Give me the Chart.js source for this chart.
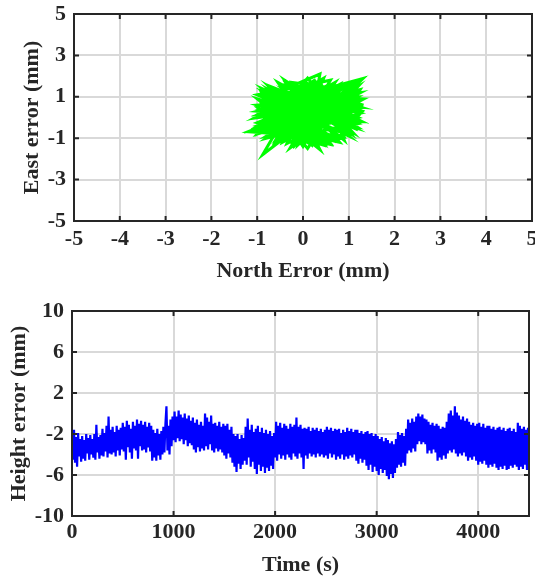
<!DOCTYPE html>
<html>
<head>
<meta charset="utf-8">
<script src="https://cdn.jsdelivr.net/npm/chart.js@4/dist/chart.umd.min.js"></script>
<style>
  html, body { margin: 0; padding: 0; background: #ffffff; }
  #wrap { position: relative; width: 535px; height: 579px; }
  canvas { position: absolute; left: 0; }
  #c1 { top: 0; }
  #c2 { top: 290px; }
</style>
</head>
<body>
<div id="wrap">
  <canvas id="c1" width="535" height="290"></canvas>
  <canvas id="c2" width="535" height="289"></canvas>
</div>
<script>
// ---- Top panel: horizontal error (North vs East), mm ----
const northError = [
  -0.2, 0.9, -0.8, 0.5, 0.2, -0.9, 1.2, -0.4, 0.0, 1.0,
  -1.0, 0.7, -0.5, 1.3, -0.7, 0.4, -1.0, 1.1, -0.2, 0.3,
  -0.9, 1.25, -0.6, 0.8, -1.2, 0.6, -0.3, 1.0, -0.8, 0.37,
  0.1, -1.0, 1.25, -0.4, 0.9, -0.6, 0.2, 1.32, -0.9, 0.5,
  -0.1, 1.15, -1.0, 0.37, -0.2, 0.9, -0.8, 1.2, -0.5, 0.0,
  1.0, -0.88, -0.3, 0.8, -1.0, 0.6, -0.28, 1.1, -0.7, 0.3,
  -0.9, 1.17, -0.4, 0.6, -1.05, 0.8, 0.0, -0.6, 1.25, -0.2,
  0.5, -1.0, 0.1, 1.05, -0.75, 0.25, 1.2, -0.5, 0.7, -0.95,
  0.4, 0.9, -0.3, 1.25, -0.8, 0.2, -0.1, 1.0, -1.0, 0.55,
  -0.4, 1.2, -0.6, 0.2, 0.95, -0.85, 0.45, -0.25, 1.1, -1.0,
  0.3, -0.5, 1.2, -0.15, 0.7, -0.9, 0.65, -0.7, 1.0, -0.35,
  0.15, 1.15, -1.0, 0.5, -0.6, 0.8, -0.2, 1.25, -0.8, 0.1,
  0.9, -0.95, 0.35, -0.45, 1.05, -0.7, 0.6, -0.15, 0.0, 1.2,
  -0.9, 0.25, 0.75, -1.05, 0.45, 0.05, -0.55, 1.1, -0.3, 0.85,
  -0.75, 0.15, -0.95, 1.2, -0.6, 0.95, -1.0, 0.6, -0.35, 1.25,
  -0.85, 0.2, 0.8, -1.0, 1.2, -0.45, 0.05, 1.1, -0.75, 0.5,
  1.25, -0.95, 0.25, 0.9, -0.65, 1.2, -0.2, -0.9, 0.7, 1.3,
  -0.5, 0.0
];
const eastError = [
  0.3, 1.1, -0.6, 1.5, -1.2, 0.8, 0.4, -1.1, 1.6, -0.7,
  0.1, 1.3, -1.0, 0.9, 1.2, -1.3, -0.4, 1.2, -1.3, 1.7,
  -0.2, -0.2, 1.4, -1.0, -0.69, 0.9, 1.5, -0.9, 1.0, 2.1,
  -1.2, 0.5, 1.85, -0.9, 0.1, -1.2, 1.4, 0.6, 1.3, -1.1,
  1.2, -0.5, 0.9, -1.55, 0.9, 1.5, -0.9, 0.0, 1.6, -1.0,
  1.4, -1.8, 0.4, -0.7, 1.1, 1.8, -1.47, 0.7, -0.3, 1.0,
  0.4, -0.44, 1.8, -1.3, -0.5, 1.6, -1.4, 0.6, 1.2, -0.5,
  0.2, -0.8, 1.9, -0.8, 1.5, -0.8, 1.5, -0.7, 0.5, 0.0,
  1.6, -1.1, 1.1, 0.2, -1.0, 0.6, -1.3, 1.0, 0.6, -0.5,
  1.3, -0.3, -1.1, 1.5, -0.4, 1.2, -1.2, 1.7, 1.3, -0.6,
  -0.3, 1.0, 0.8, -1.1, 1.7, -0.3, -0.9, 0.3, 0.3, -1.25,
  1.3, -0.1, 0.3, 1.2, -0.5, -1.2, 1.5, 0.5, 0.9, -1.5,
  1.2, -0.7, 0.8, -0.2, 1.6, 1.1, -0.1, -0.8, 1.1, -0.6,
  1.4, -1.0, 0.9, 0.0, 1.9, -0.2, 1.7, -0.3, -1.0, 1.4,
  -0.1, 0.0, 1.05, 1.0, -1.15, 1.55, -0.25, -1.25, 1.6, -0.15,
  0.6, -1.35, 1.45, -0.55, 0.75, -1.2, 1.75, -0.75, 1.35, -1.35,
  1.35, 0.2, 1.8, -0.95, -0.9, 1.65, -1.4, 1.2, -1.15, 0.3,
  1.55, 0.0
];
const northTicks = [-5, -4, -3, -2, -1, 0, 1, 2, 3, 4, 5];
const eastTicks = [-5, -3, -1, 1, 3, 5];

// ---- Bottom panel: height error vs time ----
const sampleInterval = 10; // s
const heightError = [
  -2.0, -4.5, -1.6, -4.8, -2.3, -5.2, -1.9, -4.2, -2.5, -4.7,
  -2.2, -4.4, -2.6, -4.6, -2.0, -3.9, -2.4, -4.5, -2.1, -4.0,
  -2.5, -4.3, -2.0, -4.5, -1.1, -3.8, -2.3, -4.4, -2.1, -4.1,
  -1.5, -4.2, -1.9, -3.7, -1.2, -4.3, -0.3, -3.9, -1.6, -4.0,
  -1.3, -3.8, -1.8, -4.2, -1.2, -3.6, -1.6, -4.1, -1.4, -3.5,
  -0.9, -3.7, -1.3, -4.5, -0.7, -3.3, -1.1, -3.8, -1.5, -4.4,
  -0.8, -3.4, -1.2, -3.6, -0.6, -4.4, -1.0, -3.2, -0.7, -3.6,
  -1.1, -3.5, -0.8, -3.8, -1.3, -3.3, -0.9, -3.7, -1.2, -4.6,
  -1.6, -4.3, -1.9, -4.6, -1.5, -4.1, -2.0, -4.5, -1.7, -4.0,
  -1.3, -3.8, -1.0, 0.7, -3.6, -1.2, -4.0, -0.6, -3.2, -0.3,
  -2.6, 0.2, -2.8, -0.3, -2.4, 0.3, -2.7, -0.1, -2.5, -0.4,
  -3.0, 0.0, -2.6, -0.5, -3.2, -0.2, -2.9, -0.7, -3.1, -0.4,
  -3.5, -0.9, -3.8, -0.6, -3.3, -1.1, -3.7, -0.8, -3.4, -1.2,
  -3.6, 0.0, -3.2, -0.4, -3.5, -0.8, -3.0, -0.2, -3.6, -1.0,
  -3.8, -0.9, -3.4, -1.2, -3.7, -0.8, -3.5, -1.3, -3.8, -1.0,
  -4.1, -1.2, -4.4, -1.0, -3.9, -1.6, -4.3, -1.3, -4.8, -2.0,
  -5.2, -2.2, -5.7, -2.0, -4.9, -2.5, -5.4, -2.1, -5.0, -2.4,
  -4.6, -1.3, -5.0, -0.5, -4.3, -1.6, -5.2, -1.1, -4.7, -1.8,
  -5.4, -1.5, -5.9, -1.2, -5.0, -1.8, -5.6, -1.4, -5.2, -1.9,
  -5.8, -1.6, -5.3, -2.0, -5.6, -1.7, -5.1, -2.2, -5.4, -1.9,
  -4.3, -0.8, -4.6, -1.2, -4.0, -0.9, -4.4, -1.4, -4.1, -1.0,
  -4.5, -1.2, -4.0, -1.5, -4.3, -1.0, -4.5, -1.3, -3.9, -1.1,
  -4.2, -0.4, -4.4, -1.3, -3.9, -1.1, -4.3, -1.5, -5.4, -1.4,
  -4.1, -1.5, -4.4, -1.3, -3.9, -1.7, -4.2, -1.4, -4.0, -1.6,
  -4.3, -1.4, -3.9, -1.7, -4.2, -1.5, -4.0, -1.8, -4.3, -1.6,
  -4.1, -1.3, -4.4, -1.6, -3.9, -1.4, -4.3, -1.7, -4.0, -1.5,
  -4.5, -1.6, -4.2, -1.5, -4.4, -1.9, -4.0, -1.6, -4.5, -1.8,
  -4.2, -1.4, -4.4, -1.7, -4.1, -1.5, -4.3, -1.8, -4.0, -1.6,
  -4.6, -1.6, -4.9, -1.9, -4.4, -1.7, -4.8, -2.0, -4.5, -1.8,
  -5.1, -1.7, -5.5, -2.0, -5.0, -1.9, -5.7, -2.2, -5.2, -2.0,
  -5.6, -2.2, -6.0, -2.5, -5.4, -2.3, -5.8, -2.7, -5.5, -2.4,
  -6.1, -2.6, -6.4, -2.9, -5.9, -2.7, -6.3, -3.0, -5.8, -2.5,
  -5.3, -1.8, -5.0, -2.1, -5.2, -1.9, -4.8, -2.2, -5.1, -1.5,
  -3.9, -0.6, -3.6, -0.9, -3.8, -0.5, -3.4, -0.8, -3.7, -0.3,
  -3.0, 0.0, -2.7, -0.3, -3.0, -0.1, -2.8, -0.5, -3.0, -0.6,
  -3.9, -0.8, -3.6, -1.1, -3.9, -0.9, -3.5, -1.2, -3.8, -1.0,
  -4.6, -1.2, -4.3, -1.5, -4.5, -1.3, -4.1, -1.4, -4.4, -0.8,
  -3.9, 0.0, -3.6, 0.3, -3.8, -0.2, -3.5, 0.7, -3.9, 0.1,
  -4.2, -0.2, -3.9, -0.6, -4.1, -0.3, -3.8, -0.7, -4.2, -0.5,
  -4.6, -0.8, -4.3, -1.1, -4.5, -0.9, -4.2, -1.2, -4.6, -1.0,
  -5.0, -0.9, -4.7, -1.3, -4.9, -1.0, -4.6, -1.4, -5.0, -1.2,
  -5.3, -1.2, -5.0, -1.5, -5.2, -1.3, -4.9, -1.6, -5.3, -1.4,
  -5.5, -1.3, -5.2, -1.6, -5.4, -1.4, -5.1, -1.7, -5.5, -1.5,
  -5.4, -1.4, -5.1, -1.7, -5.3, -1.5, -5.0, -1.8, -5.2, -0.9,
  -5.5, -1.2, -5.2, -1.5, -5.4, -1.3, -5.0, -1.6, -5.5, -1.4,
  -3.8
];
const timeTicks = [0, 1000, 2000, 3000, 4000];
const heightTicks = [-10, -6, -2, 2, 6, 10];

// ---- shared styling ----
const FONT = { family: "'Liberation Serif', 'Times New Roman', serif", weight: 'bold', size: 22 };
const TEXT = '#262626';
const GRID = '#d9d9d9';

const boxPlugin = {
  id: 'matlabBox',
  afterDatasetsDraw(chart) {
    const { ctx, chartArea: a, scales } = chart;
    const x = scales.x, y = scales.y;
    ctx.save();
    ctx.strokeStyle = TEXT;
    ctx.lineWidth = 2;
    ctx.beginPath();
    const L = 5;
    x.ticks.forEach(t => {
      const p = x.getPixelForValue(t.value);
      ctx.moveTo(p, a.bottom); ctx.lineTo(p, a.bottom - L);
      ctx.moveTo(p, a.top); ctx.lineTo(p, a.top + L);
    });
    y.ticks.forEach(t => {
      const p = y.getPixelForValue(t.value);
      ctx.moveTo(a.left, p); ctx.lineTo(a.left + L, p);
      ctx.moveTo(a.right, p); ctx.lineTo(a.right - L, p);
    });
    ctx.stroke();
    ctx.strokeRect(a.left, a.top, a.right - a.left, a.bottom - a.top);
    ctx.restore();
  }
};

function axis(opts) {
  return {
    type: 'linear',
    min: opts.min, max: opts.max,
    afterBuildTicks: s => { s.ticks = opts.ticks.map(v => ({ value: v })); },
    afterFit: s => {
      if (opts.w !== undefined) s.width = opts.w;
      if (opts.h !== undefined) s.height = opts.h;
      s.paddingLeft = 0; s.paddingRight = 0; s.paddingTop = 0; s.paddingBottom = 0;
    },
    grid: { color: GRID, lineWidth: 2, drawTicks: false },
    border: { display: false },
    ticks: { font: FONT, color: TEXT, padding: opts.tickPad, autoSkip: false, maxRotation: 0,
             callback: v => String(v) },
    title: { display: true, text: opts.title, font: FONT, color: TEXT, padding: opts.titlePad }
  };
}

// Top chart
new Chart(document.getElementById('c1'), {
  type: 'scatter',
  data: {
    datasets: [{
      data: northError.map((n, i) => ({ x: n, y: eastError[i] })),
      showLine: true,
      borderColor: '#00ff00',
      borderWidth: 3,
      pointRadius: 0,
      tension: 0
    }]
  },
  options: {
    responsive: false,
    animation: false,
    layout: { padding: { top: 14, right: 3, left: 0, bottom: 0 } },
    plugins: { legend: { display: false }, tooltip: { enabled: false } },
    scales: {
      x: axis({ min: -5, max: 5, ticks: northTicks, h: 69, tickPad: 5, title: 'North Error (mm)', titlePad: { top: 0, bottom: 5 } }),
      y: axis({ min: -5, max: 5, ticks: eastTicks, w: 74, tickPad: 8, title: 'East error (mm)', titlePad: { top: 19, bottom: 0 } })
    }
  },
  plugins: [boxPlugin]
});

// Bottom chart
new Chart(document.getElementById('c2'), {
  type: 'scatter',
  data: {
    datasets: [{
      data: heightError.map((v, i) => ({ x: i * sampleInterval, y: v })),
      showLine: true,
      borderColor: '#0000ff',
      borderWidth: 2.2,
      pointRadius: 0,
      tension: 0
    }]
  },
  options: {
    responsive: false,
    animation: false,
    layout: { padding: { top: 21, right: 6, left: 0, bottom: 0 } },
    plugins: { legend: { display: false }, tooltip: { enabled: false } },
    scales: {
      x: axis({ min: 0, max: 4500, ticks: timeTicks, h: 63, tickPad: 3, title: 'Time (s)', titlePad: { top: 0, bottom: 0 } }),
      y: axis({ min: -10, max: 10, ticks: heightTicks, w: 72, tickPad: 8, title: 'Height error (mm)', titlePad: { top: 6, bottom: 0 } })
    }
  },
  plugins: [boxPlugin]
});
</script>
</body>
</html>
